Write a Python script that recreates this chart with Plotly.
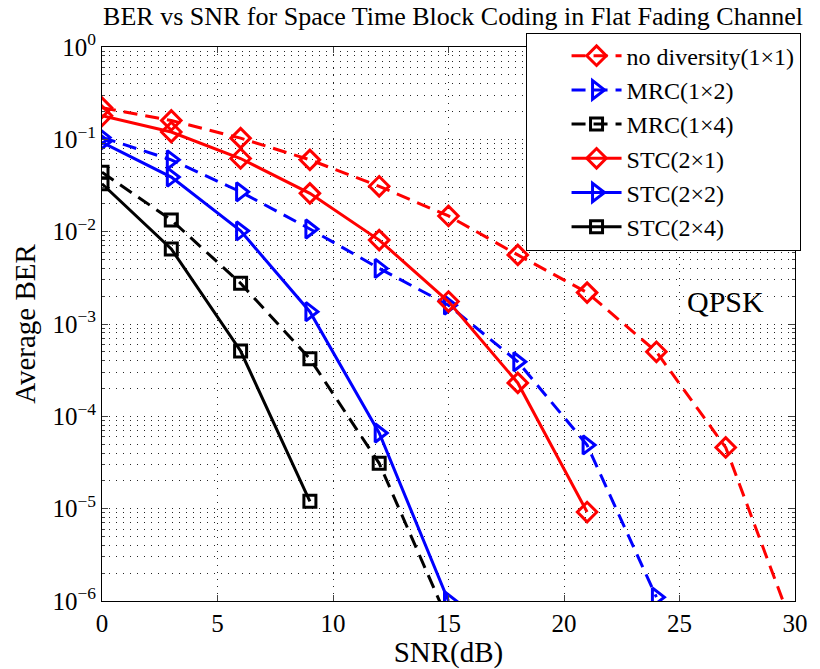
import plotly.graph_objects as go

snr = [0, 3, 6, 9, 12, 15, 18, 21, 24, 27, 30]

ber_nodiv = [0.22, 0.16, 0.103, 0.060, 0.031, 0.0148, 0.0056, 2.19e-3, 5.0e-4, 4.6e-5, 4.5e-7]
ber_mrc12 = [0.105, 0.060, 0.027, 0.0107, 0.0040, 1.6e-3, 3.9e-4, 4.9e-5, 1.1e-6]
ber_mrc14 = [0.044, 0.0134, 2.76e-3, 4.2e-4, 3.1e-5, 6.0e-7]
ber_stc21 = [0.18, 0.12, 0.062, 0.026, 0.0081, 1.75e-3, 2.3e-4, 9.2e-6]
ber_stc22 = [0.093, 0.039, 0.0102, 1.36e-3, 6.6e-5, 1.0e-6]
ber_stc24 = [0.033, 0.0065, 5.1e-4, 1.2e-5]

names = ["no diversity(1×1)", "MRC(1×2)", "MRC(1×4)", "STC(2×1)", "STC(2×2)", "STC(2×4)"]
ytick_vals = [1, 1e-1, 1e-2, 1e-3, 1e-4, 1e-5, 1e-6]
ytick_text = ["10<sup>0</sup>", "10<sup>−1</sup>", "10<sup>−2</sup>", "10<sup>−3</sup>",
              "10<sup>−4</sup>", "10<sup>−5</sup>", "10<sup>−6</sup>"]
xtick_vals = [0, 5, 10, 15, 20, 25, 30]

FONT = "Liberation Serif, Times New Roman, serif"
DASH = "14px,8px"
series = [
    (names[0], ber_nodiv, "red", DASH, "diamond-open", 15),
    (names[1], ber_mrc12, "blue", DASH, "triangle-right-open", 16),
    (names[2], ber_mrc14, "black", DASH, "square-open", 12),
    (names[3], ber_stc21, "red", "solid", "diamond-open", 15),
    (names[4], ber_stc22, "blue", "solid", "triangle-right-open", 16),
    (names[5], ber_stc24, "black", "solid", "square-open", 12),
]

fig = go.Figure()
for name, ys, col, dash, sym, ms in series:
    fig.add_trace(go.Scatter(
        x=snr[:len(ys)], y=ys, name=name, mode="lines+markers",
        line=dict(color=col, width=3, dash=dash),
        marker=dict(symbol=sym, size=ms, color=col, line=dict(width=3, color=col)),
        cliponaxis=True,
    ))

minor_vals = [m * 10 ** k for k in range(-6, 0) for m in range(2, 10)]
GRID = "1px,6px"
GCOL = "rgba(0,0,0,0.85)"

fig.update_layout(
    width=820, height=669,
    margin=dict(l=102, r=15, t=47, b=67),
    paper_bgcolor="white", plot_bgcolor="white",
    font=dict(family=FONT, color="black", size=22),
    title=dict(text="BER vs SNR for Space Time Block Coding in Flat Fading Channel",
               x=0.5525, xanchor="center", y=0.99, yanchor="top",
               font=dict(size=26, family=FONT)),
    showlegend=True,
    legend=dict(x=1.008, xanchor="right", y=1.026, yanchor="top",
                bgcolor="white", bordercolor="black", borderwidth=1,
                font=dict(size=24, family=FONT),
                itemwidth=50, tracegroupgap=0, indentation=40),
    xaxis=dict(range=[0, 30], tickvals=xtick_vals, ticks="inside", ticklen=6,
               showline=True, linecolor="black", linewidth=1, mirror="ticks",
               showgrid=True, gridcolor=GCOL, griddash=GRID, gridwidth=1,
               zeroline=False, tickfont=dict(size=25, family=FONT),
               title=dict(text="SNR(dB)", font=dict(size=29, family=FONT), standoff=0)),
    yaxis=dict(type="log", range=[-6, 0], tickvals=ytick_vals, ticktext=ytick_text,
               ticks="inside", ticklen=6,
               showline=True, linecolor="black", linewidth=1, mirror="ticks",
               showgrid=True, gridcolor=GCOL, griddash=GRID, gridwidth=1,
               zeroline=False, tickfont=dict(size=25, family=FONT),
               minor=dict(tickvals=minor_vals, ticks="inside", ticklen=3,
                          showgrid=True, gridcolor=GCOL, griddash=GRID, gridwidth=1),
               title=dict(text="Average BER", font=dict(size=29, family=FONT), standoff=8)),
    annotations=[dict(x=27.0, y=-2.76, xref="x", yref="y", text="QPSK", showarrow=False,
                      font=dict(size=30, family=FONT))],
)

fig.write_html("out.html")
